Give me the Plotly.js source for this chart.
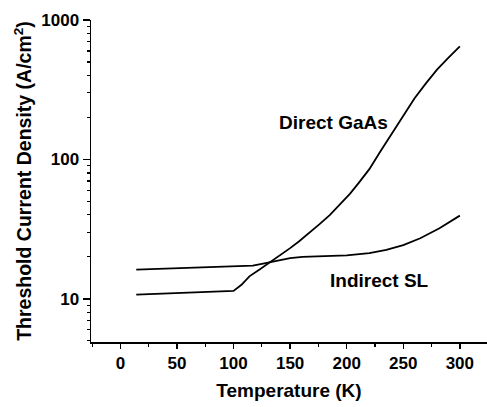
<!DOCTYPE html>
<html>
<head>
<meta charset="utf-8">
<script src="https://cdn.plot.ly/plotly-3.0.1.min.js"></script>
<style>
html,body{margin:0;padding:0;background:#fff;}
#chart{width:487px;height:407px;}
</style>
</head>
<body>
<div id="chart"></div>
<script>
// Data
const directT = [14, 100, 107, 114, 123, 132, 141, 150, 158, 167, 176, 185, 194, 203, 211, 220, 230, 241, 250, 260, 270, 280, 290, 300];
const directJ = [10.7, 11.4, 12.6, 14.5, 16.2, 18.2, 20.4, 23.1, 25.9, 29.6, 34.3, 39.8, 47.3, 56.9, 68.4, 85.1, 115, 158, 204, 275, 351, 442, 537, 646];
const indirectT = [14, 100, 117, 125, 132, 140, 150, 161, 185, 200, 220, 235, 250, 265, 282, 292, 300];
const indirectJ = [16.2, 17.1, 17.3, 17.8, 18.3, 19.0, 19.6, 20.0, 20.2, 20.5, 21.3, 22.4, 24.3, 27.2, 32.1, 35.9, 39.5];

const xTickVals = [0, 50, 100, 150, 200, 250, 300];
const yTickVals = [10, 100, 1000];
const yTickText = ['10', '100', '1000'];
const yMinorVals = [5, 6, 7, 8, 9, 20, 30, 40, 50, 60, 70, 80, 90, 200, 300, 400, 500, 600, 700, 800, 900];

const FONT = 'Liberation Sans, Arial, Helvetica, sans-serif';

const traces = [
  {x: directT, y: directJ, mode: 'lines', name: 'Direct GaAs',
   line: {color: '#000', width: 1.8}},
  {x: indirectT, y: indirectJ, mode: 'lines', name: 'Indirect SL',
   line: {color: '#000', width: 1.8}}
];

const layout = {
  width: 487, height: 407,
  margin: {l: 91, r: 0, t: 20, b: 65},
  paper_bgcolor: '#fff', plot_bgcolor: '#fff',
  showlegend: false,
  font: {family: FONT, color: '#000'},
  xaxis: {
    range: [-26, 324],
    tickmode: 'array', tickvals: xTickVals,
    ticks: 'outside', ticklen: 5, tickwidth: 1.5, tickcolor: '#000',
    minor: {ticks: 'outside', ticklen: 3, tickwidth: 1.2, tickcolor: '#000', dtick: 25, tick0: 0},
    showline: true, linecolor: '#000', linewidth: 1.5,
    showgrid: false, zeroline: false,
    tickfont: {family: FONT, size: 17, weight: 'bold', color: '#000'},
    title: {text: 'Temperature (K)', font: {family: FONT, size: 19, weight: 'bold', color: '#000'}, standoff: 12}
  },
  yaxis: {
    type: 'log',
    range: [Math.log10(4.9), 3],
    tickmode: 'array', tickvals: yTickVals, ticktext: yTickText,
    ticks: 'outside', ticklen: 7, tickwidth: 1.5, tickcolor: '#000',
    minor: {ticks: 'outside', ticklen: 3, tickwidth: 1.2, tickcolor: '#000', tickmode: 'array', tickvals: yMinorVals},
    showline: true, linecolor: '#000', linewidth: 1.5,
    showgrid: false, zeroline: false,
    tickfont: {family: FONT, size: 17, weight: 'bold', color: '#000'},
    title: {text: 'Threshold Current Density (A/cm<sup>2</sup>)', font: {family: FONT, size: 19.5, weight: 'bold', color: '#000'}, standoff: 4}
  },
  annotations: [
    {x: 188.5, y: 2.262, xref: 'x', yref: 'y', text: 'Direct GaAs', showarrow: false,
     font: {family: FONT, size: 19, weight: 'bold', color: '#000'}},
    {x: 228.8, y: 1.133, xref: 'x', yref: 'y', text: 'Indirect SL', showarrow: false,
     font: {family: FONT, size: 19, weight: 'bold', color: '#000'}}
  ]
};

Plotly.newPlot('chart', traces, layout, {staticPlot: true, displayModeBar: false});
</script>
</body>
</html>
